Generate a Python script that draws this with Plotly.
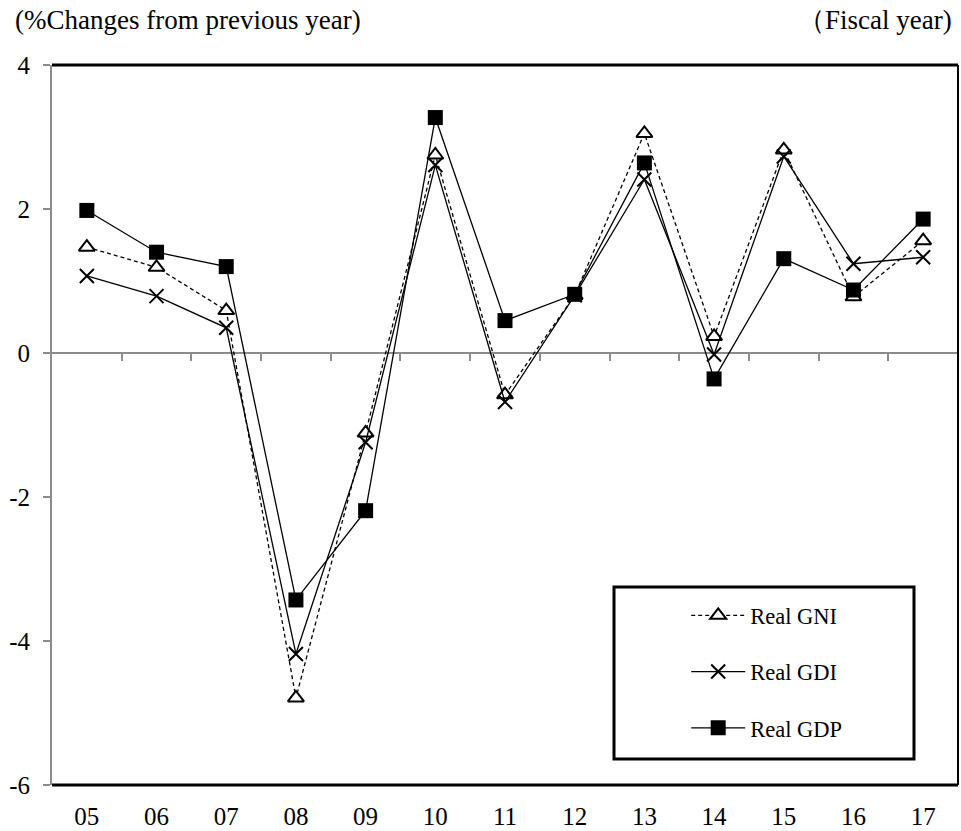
import plotly.graph_objects as go

years = ["05", "06", "07", "08", "09", "10", "11", "12", "13", "14", "15", "16", "17"]
real_gni = [1.47, 1.19, 0.59, -4.79, -1.11, 2.75, -0.58, 0.80, 3.05, 0.23, 2.82, 0.78, 1.56]
real_gdi = [1.07, 0.79, 0.35, -4.18, -1.24, 2.61, -0.68, 0.80, 2.41, -0.02, 2.73, 1.24, 1.33]
real_gdp = [1.98, 1.40, 1.20, -3.43, -2.19, 3.27, 0.45, 0.815, 2.64, -0.36, 1.31, 0.875, 1.86]
y_ticks = [-6, -4, -2, 0, 2, 4]
y_tick_text = ["-6", "-4", "-2", "0", "2", "4"]

xpos = list(range(len(years)))
FONT = "Liberation Serif, Times New Roman, serif"

fig = go.Figure()
fig.add_trace(go.Scatter(
    x=xpos, y=real_gni, name="Real GNI", mode="lines+markers", legendgroup="a",
    line=dict(color="black", width=1.3, dash="4px,3px"),
    marker=dict(symbol="triangle-up", size=14, color="white", line=dict(color="black", width=2))))
fig.add_trace(go.Scatter(
    x=xpos, y=real_gdi, name="Real GDI", mode="lines+markers", legendgroup="b",
    line=dict(color="black", width=1.3),
    marker=dict(symbol="x-thin", size=14, color="black", line=dict(color="black", width=2))))
fig.add_trace(go.Scatter(
    x=xpos, y=real_gdp, name="Real GDP", mode="lines+markers", legendgroup="c",
    xaxis="x2",
    line=dict(color="black", width=1.3),
    marker=dict(symbol="square", size=15, color="black", line=dict(color="black", width=0))))

n = len(years)
fig.update_layout(
    width=961, height=831,
    margin=dict(l=52, r=3, t=65, b=46),
    paper_bgcolor="white", plot_bgcolor="white",
    font=dict(family=FONT, color="black", size=22),
    showlegend=True,
    legend=dict(x=0.70, y=0.265, xanchor="left", yanchor="top",
                bgcolor="rgba(0,0,0,0)", borderwidth=0,
                font=dict(family=FONT, size=22.5, color="black"),
                traceorder="grouped", tracegroupgap=24, itemwidth=54),
    xaxis=dict(range=[-0.5, n - 0.5], tickmode="array", tickvals=xpos, ticktext=years,
               showline=False, ticks="", showgrid=False, zeroline=False, automargin=False,
               tickfont=dict(family=FONT, size=25), ticklabelstandoff=14),
    xaxis2=dict(overlaying="x", matches="x", anchor="free", position=0.6, side="bottom",
                range=[-0.5, n - 0.5], tickmode="array", automargin=False,
                tickvals=[i + 0.5 for i in xpos[:-1]],
                showticklabels=False, ticks="outside", ticklen=7, tickwidth=2, tickcolor="#8c8c8c",
                showline=False, showgrid=False, zeroline=False),
    yaxis=dict(range=[-6, 4], tickmode="array", tickvals=y_ticks, ticktext=y_tick_text,
               showline=True, linecolor="#8c8c8c", linewidth=2, automargin=False,
               ticks="outside", ticklen=7, tickwidth=1.5, tickcolor="#8c8c8c",
               showgrid=False, zeroline=True, zerolinecolor="#8c8c8c", zerolinewidth=2,
               tickfont=dict(family=FONT, size=25), ticklabelstandoff=8),
)

# plot frame (top, right, bottom)
fig.add_shape(type="line", xref="paper", yref="paper", x0=0, x1=1, y0=1, y1=1,
              line=dict(color="black", width=3))
fig.add_shape(type="line", xref="paper", yref="paper", x0=1, x1=1, y0=0, y1=1,
              line=dict(color="black", width=2))
fig.add_shape(type="line", xref="paper", yref="paper", x0=0, x1=1, y0=0, y1=0,
              line=dict(color="black", width=3))
# legend box
fig.add_shape(type="rect", xref="paper", yref="paper",
              x0=(614 - 52) / 906, x1=(914 - 52) / 906, y0=(785 - 759) / 720, y1=(785 - 587) / 720,
              line=dict(color="black", width=3), fillcolor="rgba(0,0,0,0)")

fig.add_annotation(text="(%Changes from previous year)", xref="paper", yref="paper",
                   x=-52 / 906 + 13 / 906, y=1 + 45 / 720, xanchor="left", yanchor="middle",
                   showarrow=False, font=dict(family=FONT, size=27))
fig.add_annotation(text="（Fiscal year)", xref="paper", yref="paper",
                   x=1 + (-4) / 906, y=1 + 45 / 720, xanchor="right", yanchor="middle",
                   showarrow=False, font=dict(family=FONT, size=27))

fig.write_html("out.html")
